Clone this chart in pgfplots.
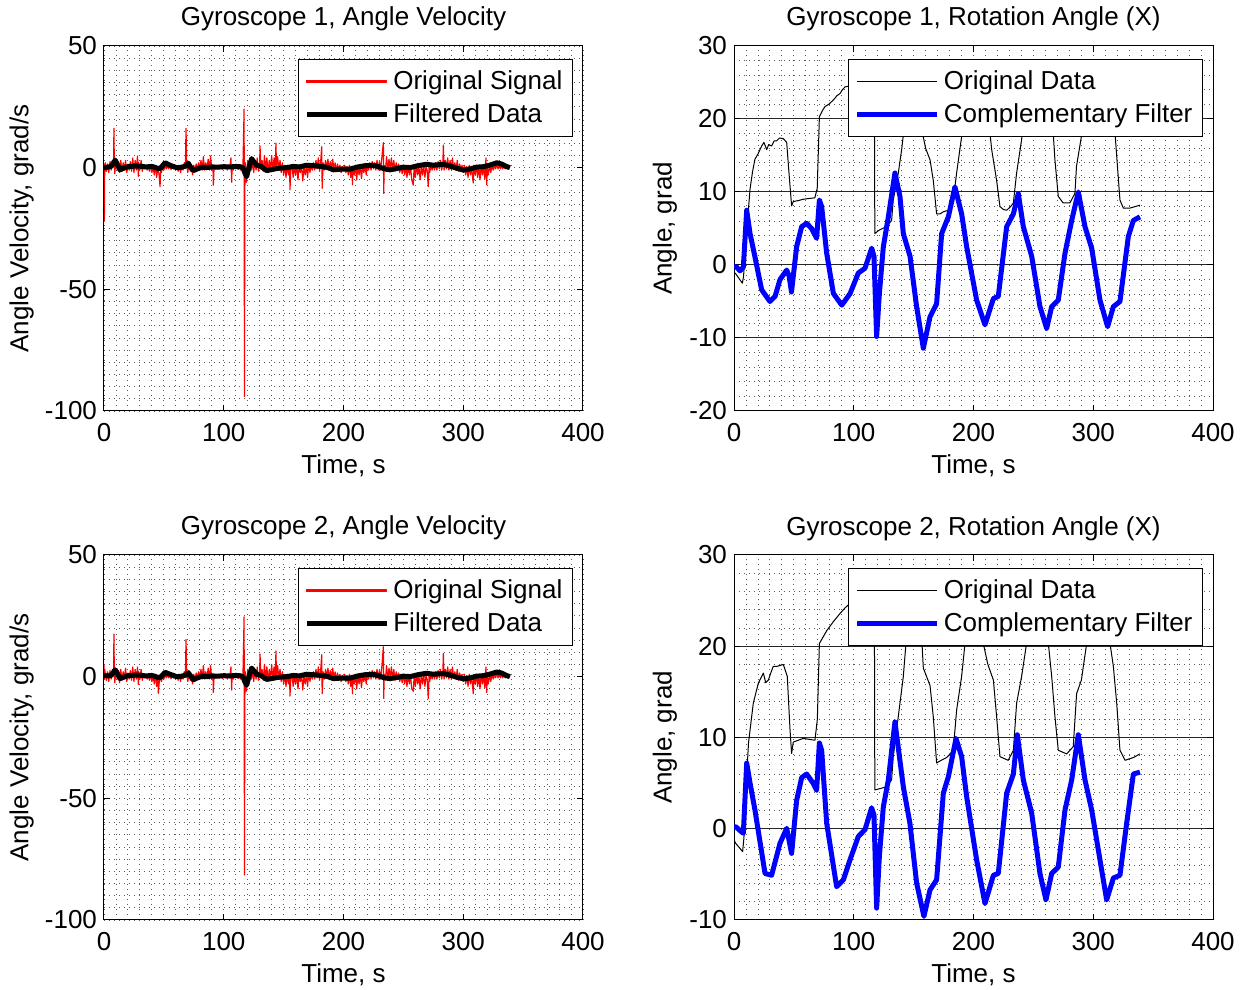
\documentclass[border=0pt]{standalone}
\usepackage{pgfplots}
\pgfplotsset{compat=1.18}
\usepackage{fontspec}
\setmainfont{Liberation Sans}
\newcommand{\ff}{\fontsize{13}{15.6}\selectfont}

\pgfplotsset{
  matlab/.style={
    scale only axis, width=239.5pt, height=182.5pt,
    xmin=0, xmax=400, xtick={0,100,200,300,400}, minor x tick num=9,
    tick align=inside, xtick pos=both, ytick pos=both,
    xticklabel pos=lower, yticklabel pos=left,
    major tick length=3pt, minor tick length=0pt,
    grid=both,
    major grid style={black!65, line width=0.45pt, dash pattern=on 0.45pt off 2.05pt},
    minor grid style={black!65, line width=0.45pt, dash pattern=on 0.45pt off 2.05pt},
    axis line style={black, line width=0.5pt},
    every tick/.style={black, line width=0.5pt},
    /pgf/number format/assume math mode=true,
    tick label style={font=\ff},
    xticklabel style={anchor=base, yshift=-15.5pt},
    label style={font=\ff},
    title style={font=\ff, at={(axis description cs:0.5,1)}, anchor=base, yshift=4pt},
    xlabel style={at={(axis description cs:0.5,0)}, anchor=base, yshift=-31.5pt},
    xlabel={Time, s},
    legend style={at={(0.979,0.964)}, anchor=north east, draw=black, line width=0.5pt,
      fill=white, font=\ff, row sep=1.5pt, inner xsep=3pt, inner ysep=3.5pt},
    legend cell align=left,
    legend image code/.code={\draw[##1] (3pt,0pt) -- (43pt,0pt);},
  },
  redleg/.style={legend image code/.code={\fill[red] (3pt,-0.35pt) rectangle (43pt,0.35pt);}},
  velo/.style={matlab, ymin=-100, ymax=50, ytick={-100,-50,0,50}, minor y tick num=9,
    ylabel={Angle Velocity, grad/s},
    ylabel style={at={(axis description cs:-0.158,0.5)}, anchor=base}},
  angl/.style={matlab, minor y tick num=4,
    major y grid style={black!85, line width=0.5pt, solid},
    ylabel={Angle, grad},
    ylabel style={at={(axis description cs:-0.130,0.5)}, anchor=base}},
}

\begin{document}
\begin{tikzpicture}
\useasboundingbox (0,0) rectangle (624.5pt,495pt);

% ---------------- Top left ----------------
\begin{axis}[velo, at={(52pt,289.5pt)}, anchor=south west,
  title={Gyroscope 1, Angle Velocity}]
\addplot[color=red, line width=0.6pt, line join=round, redleg] coordinates {
(0,0) (0.3,-22) (0.6,1) (1,2) (2,-1.5) (3,1.5) (4,-2) (5,2.5) (6,-1) (7,3) (8,1) (8.3,16.2) (8.6,2) (9,-2.5) (10,3.5) (11,-1) (12,2.5) (13,-2) (14,3) (15,-1.5) (16,2) (17,-1) (18,3) (19,-2) (20,1.5) (21,-1) (22,2.5) (23,-1.5) (24,4) (25,-2) (26,3) (27,-1) (28,4.8) (28.7,-3.6) (29,2) (30,-1) (31,3) (32,-1.5) (33,1) (34,-0.5) (35,1) (36,-1) (37,0.5) (38,-1.5) (39,1) (40,-2) (41,0.5) (42,-3) (43,1) (44,-4) (45,0.5) (46,-3) (46.8,-7.8) (47.5,1) (48,-2) (49,0.5) (50,-1) (51,1) (52,-0.5) (53,1) (54,-0.5) (55,0.8) (56,-0.8) (57,0.5) (58,-0.5) (59,0.8) (60,-0.6) (61,0.5) (62,-1.5) (63,0.8) (64,-2) (65,1) (66,-1) (67,2) (68,0.5) (68.5,16.2) (69,1) (70,-2) (71,2.5) (72,-1.5) (73,1) (74,-3) (75,1) (76,-1) (77,1.5) (78,-0.5) (79,2) (80,-0.5) (81,3) (82,-1) (83,4.5) (84,-1) (85,2) (86,-0.5) (87,3.5) (88,-1) (89,4.8) (90,-1) (91,1) (91.3,-7.2) (92,1) (93,-0.5) (94,0.8) (95,-0.5) (96,1) (97,-0.5) (98,0.8) (99,-0.8) (100,1) (101,-0.5) (102,0.5) (103,-1) (104,1) (105,-0.5) (106,4) (106.6,-6) (107,0.5) (108,-1) (109,0.8) (110,-0.5) (111,1) (112,-0.8) (113,0.5) (114,-1) (115,0.8) (116,-0.5) (117,24.1) (117.3,-94.1) (117.6,-9) (118,2) (119,-6) (120,3) (121,-3) (122,4) (123,-1) (124,2) (125,-2) (126,3) (127,-1) (128,4) (129,-1.5) (130,2) (130.3,8.9) (131,-0.5) (132,3) (133,-1.5) (134,5) (135,-1) (136,4) (137,-2) (138,3) (139,-1) (140,5) (141,-1.5) (142,4) (143,-1) (143.6,10.1) (144,0) (145,4.5) (146,-1) (147,3) (148,-2) (149,2) (150,-3) (151,1) (152,-4) (153,1) (154,-3) (155,0.5) (155.3,-9.1) (156,-1) (157,1) (158,-4) (159,0.5) (160,-3) (161,1) (162,-5) (163,0.5) (164,-2) (165,1) (166,-5.5) (167,0.5) (168,-3) (169,1) (170,-4) (171,1.5) (172,-2) (173,1) (174,-1) (175,2) (176,-1) (177,3) (178,-0.5) (179,4) (180,-1.5) (181,3) (181.8,8.6) (182.2,-8.5) (183,2) (184,-1) (185,3) (186,-0.5) (187,3.5) (188,-1) (189,2.5) (190,-0.5) (191,3.5) (192,-1) (193,2) (194,-1.5) (195,1.5) (196,-1) (197,1) (198,-2) (199,0.5) (200,-1) (201,1) (202,-2) (203,0.5) (204,-3) (205,1) (206,-4) (207,0.5) (207.5,-7) (208,0.5) (209,-3) (210,1) (211,-5) (212,0.5) (213,-3) (214,1) (215,-4.5) (216,0.5) (217,-2) (218,1) (219,-3) (220,1.5) (221,-1) (222,2) (223,-1) (224,2.5) (225,-0.5) (226,2) (227,-1) (228,3) (229,-1) (230,2.5) (231,-1) (232,4) (233.3,10.3) (233.6,-10.6) (234,1) (235,-1) (236,4.5) (237,-1) (238,3.5) (239,-0.5) (240,4) (241,-1) (242,3) (243,-1.5) (244,2) (245,-1) (246,1.5) (247,-2) (248,1) (249,-2.5) (250,1) (251,-3) (252,0.5) (253,-4) (254,1) (255,-3) (256,0.5) (257,-5) (258.3,-7.2) (259,0.5) (260,-4) (261,1) (262,-3) (263,0.5) (264,-5) (265,1) (266,-3) (267,0.5) (268,-4) (269,1) (270,-2) (270.8,-7.8) (271.5,1) (272,-2) (273,1) (274,-1) (275,1.5) (276,-1) (277,2) (278,-1) (279,2.5) (280,-0.5) (281,3) (282,-1) (283,2) (283.4,9.3) (284,-1) (285,3) (286,-0.5) (287,4) (288,-1) (289,3) (290,-1) (291,4) (292,-0.5) (293,2) (294,-1) (295,3) (296,-1.5) (297,1.5) (298,-1) (299,1) (300,-2) (301,1) (302,-3) (303,0.5) (304,-4) (305,1) (306,-3) (307,0.5) (308,-5) (308.4,-6.3) (309,1) (310,-3) (311,1) (312,-4) (313,0.5) (314,-5) (315,1) (316,-3) (317,0.5) (318,-4.5) (319,4) (319.6,-7) (320,0.5) (321,-3) (322,1) (323,-2) (324,1) (325,-1) (326,1) (327,-0.5) (328,1.5) (329,-0.5) (330,1) (331,-0.5) (332,1) (333,-0.5) (334,0.8) (335,-0.5) (336,0.5) (337,-0.5) (338,0.5) (339,0)
};
\addlegendentry{Original Signal}
\addplot[black, line width=2.5pt, line join=round] coordinates {
(0,0) (3,0.2) (6,0.5) (9.4,3.1) (11,1.5) (13.4,-0.9) (16,-0.3) (20,0.4) (25,0.6) (30,0.6) (35,0.3) (40,0.5) (45,-0.3) (47,-0.3) (51,2.0) (55,1.0) (60.7,0) (65,0.2) (68,0.6) (70.4,1.8) (72,0.5) (74.6,-1.2) (78,-0.5) (82,0.2) (85.7,0) (90,0.3) (95,0.2) (100,0.4) (105,0.3) (110,0.5) (113.6,0.4) (116,0.0) (117.5,-2) (119.1,-3.7) (121,0) (123.3,3.7) (125,2.5) (127.5,1.0) (131,0.5) (135.8,-1.2) (140,-0.8) (145,-0.3) (152.5,0) (158,0.5) (163,0.3) (169.2,1.0) (175,0.8) (183.1,0.4) (187,0.0) (191.5,-0.9) (198,-0.6) (205.4,-0.6) (212,0.3) (218,0.8) (224.9,1.0) (230,0.3) (234,-0.5) (238.8,-0.9) (245,-0.3) (250,0.2) (255.5,0) (262,0.8) (269.4,1.4) (275,1.0) (283.4,1.4) (290,0.5) (295,-0.3) (300.1,-1.0) (306,-0.5) (311,0.2) (316.8,0.4) (322,1.0) (328,2.0) (332,1.5) (336,0.5) (339,0)
};
\addlegendentry{Filtered Data}
\end{axis}

% ---------------- Top right ----------------
\begin{axis}[angl, at={(367pt,289.5pt)}, anchor=south west,
  ymin=-20, ymax=30, ytick={-20,-10,0,10,20,30},
  title={Gyroscope 1, Rotation Angle (X)}]
\addplot[black, line width=0.5pt, line join=round] coordinates {
(0,-1.0) (1.4,-1.2) (4,-1.8) (7,-2.5) (8,-1.5) (9.7,2.6) (11.5,6.5) (13.4,10.4) (15.5,12.8) (17.5,14.5) (20,15.2) (23.1,16.3) (25,16.8) (27.3,15.8) (29,16.5) (31.4,16.3) (33.5,17.0) (35.6,17.0) (38,17.4) (41.2,17.3) (44,16.8) (45.5,13.5) (46.8,10.8) (48.1,8.1) (49.5,8.7) (53,8.8) (57.8,9.0) (62,9.1) (67.5,9.2) (69.5,10.5) (71.3,20.3) (74,21.2) (76,21.7) (79,22.0) (83,22.6) (86,23.2) (88.6,23.5) (90.5,24.0) (92.7,24.4) (96,24.5) (100,25.0) (105,25.3) (110,25.6) (116,25.8) (117.2,25.5) (117.6,4.3) (120.5,4.7) (124,5.0) (127.5,5.3) (131.6,6.1) (133,8.9) (137.2,12.6) (140,15.8) (141.4,17.8) (143.5,21) (146,24) (150,25.5) (155,25.3) (157.5,18) (160,16.0) (163.7,14.4) (166.4,11.6) (169.2,7.0) (172,7.0) (175,7.3) (179,7.5) (183.1,8.9) (185.9,12.6) (190.1,17.6) (192,20) (195,23.5) (200,25) (205,25.5) (210,24.5) (213.8,18) (215.2,15.8) (219.3,11.6) (222.1,8.0) (225,7.6) (227.7,7.5) (231,8.0) (233.3,8.5) (236,12.6) (240.2,17.2) (241.5,19) (244,22.5) (250,24.8) (257,25.2) (263,24.5) (266.6,18) (268,14.4) (270.8,9.4) (274.9,8.5) (280.5,8.5) (284.7,9.8) (286,13.5) (290.1,17.6) (292,20) (296,23.5) (302,25) (310,25.3) (316,23.5) (318.2,18) (319.6,14.9) (322.3,8.9) (325.1,7.8) (330.7,7.8) (335,8.0) (339,8.2)
};
\addlegendentry{Original Data}
\addplot[blue, line width=2.5pt, line join=round] coordinates {
(0,-0.3) (1.7,-0.2) (5,-0.8) (7.8,-0.3) (10.6,7.5) (13.4,4.3) (17.5,1.1) (23.1,-3.4) (30,-5.0) (34.3,-4.3) (38.4,-2.0) (44,-0.7) (46,-1.5) (48,-3.7) (52.3,2.5) (56.5,5.25) (60.7,5.7) (64.8,5.0) (69,3.65) (71.3,8.9) (73.2,8.0) (77.4,1.6) (83,-3.9) (90,-5.5) (97,-3.9) (103.8,-1.1) (109.4,-0.45) (115,2.3) (116.9,1.2) (119.1,-9.8) (121.4,-3.9) (124.7,2.5) (128.9,6.6) (134.4,12.6) (138.6,9.4) (141.4,4.3) (147,1.2) (152.5,-5.7) (158.1,-11.4) (163.7,-7.1) (169.2,-5.3) (173.4,4.3) (179,6.6) (184.5,10.7) (190.1,7.0) (194.3,2.5) (202.6,-4.8) (209.6,-8.2) (216.6,-4.6) (220.7,-4.3) (227.7,5.25) (233.3,7.0) (237.4,9.8) (241.6,5.25) (248.6,1.2) (255.5,-5.7) (261.1,-8.7) (265.3,-5.7) (270.8,-4.8) (276.4,1.6) (282,6.1) (287.5,10.0) (293.1,5.25) (298.7,2.3) (305.6,-4.8) (312,-8.45) (316.8,-5.7) (322.3,-5.0) (329.3,3.9) (333.5,6.1) (339,6.6)
};
\addlegendentry{Complementary Filter}
\end{axis}

% ---------------- Bottom left ----------------
\begin{axis}[velo, at={(52pt,35pt)}, anchor=south west,
  title={Gyroscope 2, Angle Velocity}]
\addplot[color=red, line width=0.6pt, line join=round, redleg] coordinates {
(0,5) (0.3,-1) (0.6,3) (1,1.5) (2,-1.5) (3,2) (4,-2) (5,2.5) (6,-1) (7,3) (8,1) (8.3,17.5) (8.6,2) (9,-2.5) (10,3) (11,-1) (12,2.5) (13,-2.5) (14,3) (15,-1.5) (16,2) (17,-1) (18,3.5) (19,-2) (20,1.5) (21,-1) (22,2.5) (23,-1.5) (24,4) (25,-2) (26,3) (27,-1) (28,4) (28.7,-3.2) (29,2) (30,-1) (31,3) (32,-1.5) (33,1) (34,-0.5) (35,1) (36,-1) (37,0.5) (38,-1.5) (39,1) (40,-2) (41,0.5) (42,-3) (43,1) (44,-4) (45,0.5) (45.4,-6.9) (46,-3) (47,1) (48,-2) (49,0.5) (50,-1) (51,1) (52,-0.5) (53,1) (54,-0.5) (55,0.8) (56,-0.8) (57,0.5) (58,-0.5) (59,0.8) (60,-0.6) (61,0.5) (62,-1.5) (63,0.8) (64,-2) (65,1) (66,-1) (67,2) (68,0.5) (68.5,15.3) (69,1) (70,-2) (71,2.5) (72,-1.5) (73,1) (74,-3) (75,1) (76,-1) (77,1.5) (78,-0.5) (79,2) (80,-0.5) (81,3) (82,-1) (83,4.5) (84,-1) (85,2) (86,-0.5) (87,3.5) (88,-1) (89,4.5) (90,-1) (91,1) (91.3,-6.5) (92,1) (93,-0.5) (94,0.8) (95,-0.5) (96,1) (97,-0.5) (98,0.8) (99,-0.8) (100,1) (101,-0.5) (102,0.5) (103,-1) (104,1) (105,-0.5) (106,4) (106.6,-5.5) (107,0.5) (108,-1) (109,0.8) (110,-0.5) (111,1) (112,-0.8) (113,0.5) (114,-1) (115,0.8) (116,-0.5) (117,24.6) (117.3,-81.5) (117.6,-9) (118,2) (119,-6) (120,3) (121,-3) (122,4) (123,-1) (124,2) (125,-2) (126,3) (127,-1) (128,4) (129,-1.5) (130,2) (130.3,9.3) (131,-0.5) (132,3) (133,-1.5) (134,5) (135,-1) (136,4) (137,-2) (138,3) (139,-1) (140,5) (141,-1.5) (142,4) (143,-1) (143.6,10.6) (144,0) (145,4.5) (146,-1) (147,3) (148,-2) (149,2) (150,-3) (151,1) (152,-4) (153,1) (154,-3) (155,0.5) (155.3,-8) (156,-1) (157,1) (158,-4) (159,0.5) (160,-3) (161,1) (162,-5) (163,0.5) (164,-2) (165,1) (166,-5.5) (167,0.5) (168,-3) (169,1) (170,-4) (171,1.5) (172,-2) (173,1) (174,-1) (175,2) (176,-1) (177,3) (178,-0.5) (179,4) (180,-1.5) (181,3) (181.8,9) (182.2,-7) (183,2) (184,-1) (185,3) (186,-0.5) (187,3.5) (188,-1) (189,2.5) (190,-0.5) (191,3.5) (192,-1) (193,2) (194,-1.5) (195,1.5) (196,-1) (197,1) (198,-2) (199,0.5) (200,-1) (201,1) (202,-2) (203,0.5) (204,-3) (205,1) (206,-4) (207,0.5) (207.5,-7) (208,0.5) (209,-3) (210,1) (211,-5) (212,0.5) (213,-3) (214,1) (215,-4.5) (216,0.5) (217,-2) (218,1) (219,-3) (220,1.5) (221,-1) (222,2) (223,-1) (224,2.5) (225,-0.5) (226,2) (227,-1) (228,3) (229,-1) (230,2.5) (231,-1) (232,4) (233.3,12.3) (233.6,-9) (234,1) (235,-1) (236,4.5) (237,-1) (238,3.5) (239,-0.5) (240,4) (241,-1) (242,3) (243,-1.5) (244,2) (245,-1) (246,1.5) (247,-2) (248,1) (249,-2.5) (250,1) (251,-3) (252,0.5) (253,-4) (254,1) (255,-3) (256,0.5) (257,-5) (258.3,-6) (259,0.5) (260,-4) (261,1) (262,-3) (263,0.5) (264,-5) (265,1) (266,-3) (267,0.5) (268,-4) (269,1) (270,-2) (270.8,-9) (271.5,1) (272,-2) (273,1) (274,-1) (275,1.5) (276,-1) (277,2) (278,-1) (279,2.5) (280,-0.5) (281,3) (282,-1) (283,2) (283.4,9.6) (284,-1) (285,3) (286,-0.5) (287,4) (288,-1) (289,3) (290,-1) (291,4) (292,-0.5) (293,2) (294,-1) (295,3) (296,-1.5) (297,1.5) (298,-1) (299,1) (300,-2) (301,1) (302,-3) (303,0.5) (304,-4) (305,1) (306,-3) (307,0.5) (308,-5) (308.4,-7) (309,1) (310,-3) (311,1) (312,-4) (313,0.5) (314,-5) (315,1) (316,-3) (317,0.5) (318,-4.5) (319,4) (319.6,-6.5) (320,0.5) (321,-3) (322,1) (323,-2) (324,1) (325,-1) (326,1) (327,-0.5) (328,1.5) (329,-0.5) (330,1) (331,-0.5) (332,1) (333,-0.5) (334,0.8) (335,-0.5) (336,0.5) (337,-0.5) (338,0.5) (339,0)
};
\addlegendentry{Original Signal}
\addplot[black, line width=2.5pt, line join=round] coordinates {
(0,0.5) (3,0.3) (6,0.5) (9.4,2.8) (11,1.5) (13.4,-0.8) (16,-0.3) (20,0.4) (25,0.6) (30,0.6) (35,0.3) (40,0.5) (45,-0.3) (47,-0.4) (51,1.8) (55,1.0) (60.7,0) (65,0.2) (68,0.6) (70.4,1.6) (72,0.5) (74.6,-1.3) (78,-0.5) (82,0.2) (85.7,0) (90,0.3) (95,0.2) (100,0.4) (105,0.3) (110,0.5) (113.6,0.4) (116,0.0) (117.5,-2) (119.1,-3.5) (121,0) (123.3,3.5) (125,2.5) (127.5,1.0) (131,0.5) (135.8,-1.1) (140,-0.8) (145,-0.3) (152.5,0) (158,0.5) (163,0.3) (169.2,1.0) (175,0.8) (183.1,0.4) (187,0.0) (191.5,-0.8) (198,-0.6) (205.4,-0.6) (212,0.3) (218,0.8) (224.9,1.0) (230,0.3) (234,-0.5) (238.8,-0.8) (245,-0.3) (250,0.2) (255.5,0) (262,0.8) (269.4,1.4) (275,1.0) (283.4,1.3) (290,0.5) (295,-0.3) (300.1,-0.9) (306,-0.5) (311,0.2) (316.8,0.4) (322,1.0) (328,1.9) (332,1.5) (336,0.5) (339,0)
};
\addlegendentry{Filtered Data}
\end{axis}

% ---------------- Bottom right ----------------
\begin{axis}[angl, at={(367pt,35pt)}, anchor=south west,
  ymin=-10, ymax=30, ytick={-10,0,10,20,30},
  title={Gyroscope 2, Rotation Angle (X)}]
\addplot[black, line width=0.5pt, line join=round] coordinates {
(0,-1.2) (1.4,-1.6) (4,-2.0) (7.2,-2.5) (8.3,-1.0) (9.7,3.5) (12.1,9.4) (16.1,13.75) (20.3,15.95) (24.5,17.05) (26.5,16.0) (28.7,16.3) (30.5,17.0) (32.8,17.8) (36,17.8) (41.2,18.0) (44.5,16.7) (46.8,10.8) (48.1,8.25) (49.5,9.5) (57.8,9.9) (67.6,9.7) (69.6,12) (71.3,20.3) (77.4,21.7) (83,22.7) (88.6,23.6) (92.7,24.2) (96.9,24.7) (102,25.2) (108,25.5) (114,25.8) (117.2,25.6) (117.6,4.25) (122,4.4) (127.5,4.6) (131.6,5.35) (133,7.9) (137.2,12.3) (141.4,16.7) (143.6,20.3) (146,23.5) (150,25.2) (155,24.5) (157,20.3) (158.1,17.6) (163.7,15.7) (166.4,12.3) (169.2,7.2) (173,7.5) (177.6,7.8) (183.1,8.6) (185.9,13) (190.1,16.7) (192.9,20.3) (196,23.5) (200,25) (205,24.5) (208.2,20.3) (212,18) (216.6,16.3) (219.3,12.3) (222.1,7.9) (229,7.5) (233.3,8.6) (236,13.75) (240.2,16.7) (244.3,20.3) (248,23.5) (254,25) (260,24) (262.5,20.3) (265.3,16.7) (268,12.3) (270.8,8.6) (277.8,8.2) (283.3,9.0) (286.1,14.8) (290.1,16.3) (294.5,20.3) (298,23.5) (305,25) (311,24) (314,20.3) (316.8,17.8) (319.6,13.75) (322.3,8.6) (326.5,7.5) (333.5,7.8) (339,8.2)
};
\addlegendentry{Original Data}
\addplot[blue, line width=2.5pt, line join=round] coordinates {
(0,0.2) (1.7,0.2) (5,-0.2) (7.8,-0.5) (10.6,7.2) (13.4,5.0) (17.5,2.05) (25.9,-4.9) (31.4,-5.1) (38.4,-1.6) (44,0.05) (48.1,-2.7) (52.3,3.1) (56.5,5.6) (60.7,6.0) (66,5.0) (69,4.2) (71.3,9.4) (73.2,8.6) (77.4,0.6) (85.7,-6.35) (91.3,-5.6) (96.9,-3.4) (103.8,-0.85) (109.4,-0.1) (114.9,2.3) (116.9,1.5) (119.1,-8.7) (121.4,-3.0) (124.7,2.4) (128.9,5.35) (134.4,11.7) (141.4,4.6) (146.9,0.6) (152.5,-5.95) (158.6,-9.6) (163.7,-6.7) (169.2,-5.6) (174.8,3.9) (179,5.7) (185.4,9.9) (190.1,7.9) (194.3,3.5) (202.6,-3.4) (209.6,-8.2) (216.6,-5.1) (220.7,-4.9) (227.7,3.9) (233.3,6.0) (236.6,10.3) (241.6,5.35) (248.6,1.7) (255.5,-4.9) (260.5,-7.8) (265.3,-4.9) (270.8,-4.2) (276.4,2.05) (282,5.35) (287.5,10.3) (293.1,5.35) (298.7,2.05) (305.6,-3.4) (311.2,-7.8) (316.8,-5.4) (322.3,-5.1) (327.9,0.6) (333.5,6.0) (339,6.2)
};
\addlegendentry{Complementary Filter}
\end{axis}
\end{tikzpicture}
\end{document}
